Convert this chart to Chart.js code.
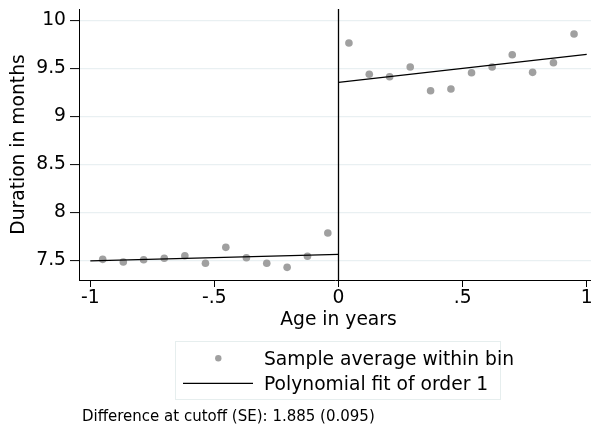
<!DOCTYPE html>
<html>
<head>
<meta charset="utf-8">
<script src="https://cdn.jsdelivr.net/npm/chart.js@4"></script>
<style>
  html, body { margin: 0; padding: 0; background: #fff; overflow: hidden; }
  #wrap { width: 591px; height: 430px; }
</style>
</head>
<body>
<div id="wrap"><canvas id="c" width="591" height="430"></canvas></div>
<script>
// ---- data ----
const binXLeft  = [-0.950, -0.867, -0.785, -0.702, -0.619, -0.536, -0.454, -0.371, -0.289, -0.207, -0.125, -0.043];
const binYLeft  = [7.512, 7.484, 7.508, 7.523, 7.550, 7.471, 7.637, 7.529, 7.471, 7.429, 7.544, 7.786];
const binXRight = [0.042, 0.124, 0.206, 0.289, 0.371, 0.453, 0.536, 0.619, 0.700, 0.782, 0.866, 0.949];
const binYRight = [9.766, 9.440, 9.415, 9.516, 9.269, 9.286, 9.456, 9.516, 9.644, 9.460, 9.560, 9.859];

const fitXLeft  = [-1, 0];
const fitYLeft  = [7.497, 7.564];
const fitXRight = [0, 1];
const fitYRight = [9.356, 9.648];

const cutoff = 0;

const xTickValues = [-1, -0.5, 0, 0.5, 1];
const xTickLabels = ['-1', '-.5', '0', '.5', '1'];
const yTickValues = [7.5, 8, 8.5, 9, 9.5, 10];
const yTickLabels = ['7.5', '8', '8.5', '9', '9.5', '10'];

// the original plot region spans -1.0455..1.0455 but is cropped at the right edge
const xRangeMin = -1.0455, xRangeMax = 1.0455;
const xVisibleMax = 1.0173;
const yMin = 7.297, yMax = 10.12;

const xTitle = 'Age in years';
const yTitle = 'Duration in months';
const legendLabels = ['Sample average within bin', 'Polynomial fit of order 1'];
const noteText = 'Difference at cutoff (SE): 1.885 (0.095)';

const FONT = "'DejaVu Sans', sans-serif";
const BIG = 18.7;
const pointColor = '#a0a0a0';
const gridColor = '#e9f0f2';

const pts = (xs, ys) => xs.map((x, i) => ({ x: x, y: ys[i] }));

const legendPlugin = {
  id: 'stataLegend',
  afterDraw(chart) {
    const ctx = chart.ctx;
    const xs = chart.scales.x;
    ctx.save();
    // x-axis title, centred on the full (uncropped) plot region
    ctx.fillStyle = '#000';
    ctx.font = BIG + 'px ' + FONT;
    ctx.textAlign = 'center';
    ctx.textBaseline = 'alphabetic';
    ctx.fillText(xTitle, xs.getPixelForValue((xRangeMin + xRangeMax) / 2), 324.5);
    // legend box
    ctx.fillStyle = '#ffffff';
    ctx.fillRect(175.5, 341.5, 325, 58);
    ctx.strokeStyle = '#e6eeee';
    ctx.lineWidth = 1;
    ctx.strokeRect(175.5, 341.5, 325, 58);
    // legend marker
    ctx.fillStyle = pointColor;
    ctx.beginPath();
    ctx.arc(218.3, 358.3, 3.2, 0, Math.PI * 2);
    ctx.fill();
    // legend line
    ctx.strokeStyle = '#000';
    ctx.lineWidth = 1.3;
    ctx.beginPath();
    ctx.moveTo(183, 383.3);
    ctx.lineTo(253, 383.3);
    ctx.stroke();
    // legend texts
    ctx.fillStyle = '#000';
    ctx.font = BIG + 'px ' + FONT;
    ctx.textAlign = 'left';
    ctx.textBaseline = 'alphabetic';
    ctx.fillText(legendLabels[0], 264, 365);
    ctx.fillText(legendLabels[1], 264, 389.5);
    // note
    ctx.font = '15px ' + FONT;
    ctx.fillText(noteText, 82, 420.5);
    ctx.restore();
  }
};

new Chart(document.getElementById('c'), {
  type: 'scatter',
  data: {
    datasets: [
      { label: 'binsL', data: pts(binXLeft, binYLeft), pointRadius: 3.8, pointHoverRadius: 3.8,
        backgroundColor: pointColor, borderColor: pointColor, borderWidth: 0, showLine: false, order: 1 },
      { label: 'binsR', data: pts(binXRight, binYRight), pointRadius: 3.8, pointHoverRadius: 3.8,
        backgroundColor: pointColor, borderColor: pointColor, borderWidth: 0, showLine: false, order: 1 },
      { label: 'fitL', data: pts(fitXLeft, fitYLeft), showLine: true, pointRadius: 0,
        borderColor: '#000', borderWidth: 1.3, order: 0 },
      { label: 'fitR', data: pts(fitXRight, fitYRight), showLine: true, pointRadius: 0,
        borderColor: '#000', borderWidth: 1.3, order: 0 },
      { label: 'cut', data: [{ x: cutoff, y: yMin }, { x: cutoff, y: yMax }], showLine: true, pointRadius: 0,
        borderColor: '#000', borderWidth: 1.3, order: 0 }
    ]
  },
  options: {
    responsive: false,
    animation: false,
    events: [],
    layout: { autoPadding: false, padding: { top: 9, bottom: 100, left: 0, right: 0 } },
    plugins: { legend: { display: false }, tooltip: { enabled: false } },
    scales: {
      x: {
        type: 'linear', min: xRangeMin, max: xVisibleMax,
        afterBuildTicks: s => { s.ticks = xTickValues.map(v => ({ value: v })); },
        afterFit: s => { s.height = 50; s.paddingLeft = 0; s.paddingRight = 0; s.paddingTop = 0; s.paddingBottom = 0; },
        ticks: {
          autoSkip: false, maxRotation: 0, padding: 0, color: '#000',
          font: { family: FONT, size: BIG },
          callback: (v) => { const i = xTickValues.indexOf(v); return i >= 0 ? xTickLabels[i] : ''; }
        },
        grid: { drawOnChartArea: false, tickColor: '#000', tickLength: 7, tickWidth: 1 },
        border: { display: true, color: '#000', width: 1 },
        title: { display: false }
      },
      y: {
        type: 'linear', min: yMin, max: yMax,
        afterBuildTicks: s => { s.ticks = yTickValues.map(v => ({ value: v })); },
        afterFit: s => { s.width = 79; s.paddingLeft = 0; s.paddingRight = 0; s.paddingTop = 0; s.paddingBottom = 0; },
        ticks: {
          autoSkip: false, padding: 4, color: '#000',
          font: { family: FONT, size: BIG },
          callback: (v) => { const i = yTickValues.indexOf(v); return i >= 0 ? yTickLabels[i] : ''; }
        },
        grid: { drawOnChartArea: true, color: gridColor, lineWidth: 1.2, tickColor: '#000', tickLength: 9, tickWidth: 1 },
        border: { display: true, color: '#000', width: 1 },
        title: { display: true, text: yTitle, color: '#000', font: { family: FONT, size: BIG }, padding: { top: 8, bottom: 0 } }
      }
    }
  },
  plugins: [legendPlugin]
});
</script>
</body>
</html>
